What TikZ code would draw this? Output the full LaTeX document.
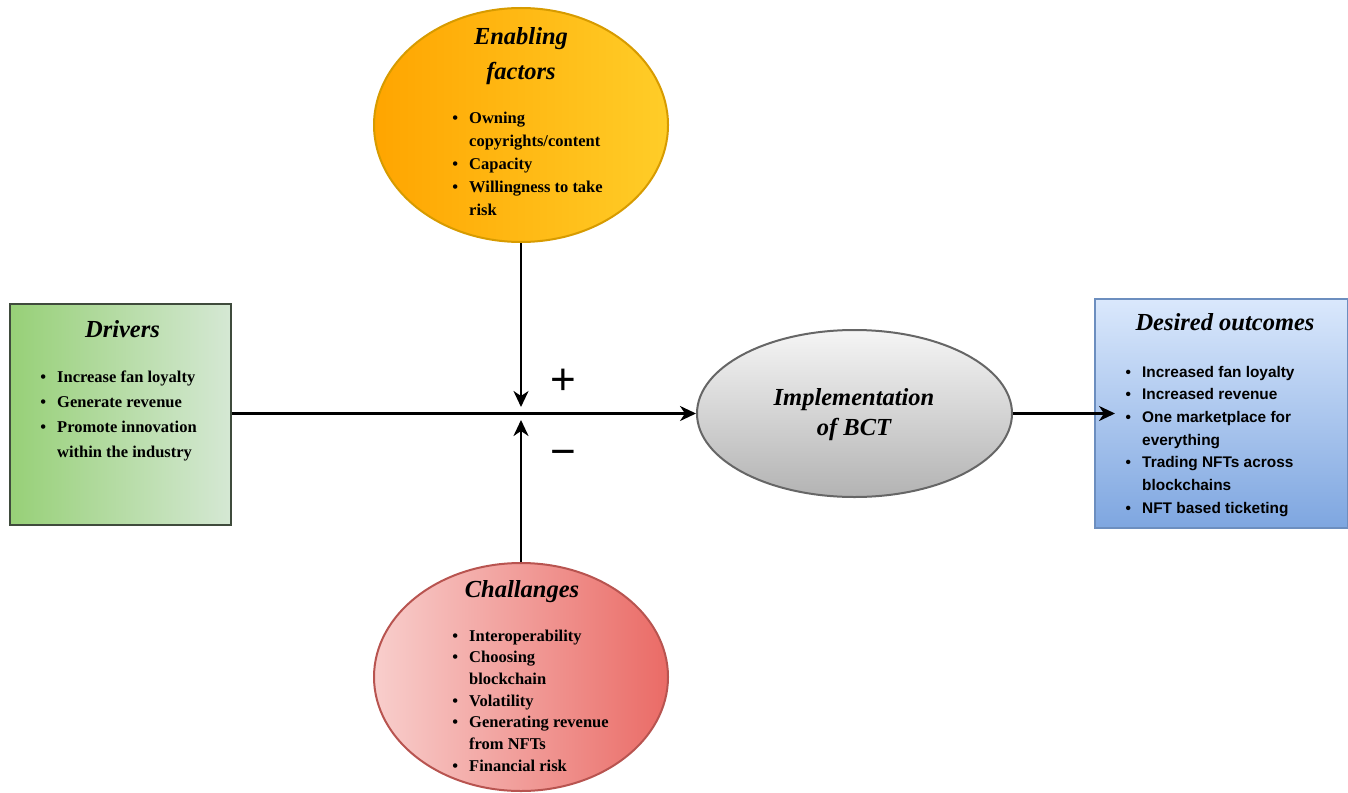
\documentclass[tikz,border=0pt]{standalone}
\usepackage{fontspec}
\setmainfont{Liberation Serif}
\newfontfamily\arialf{Liberation Sans}
\usetikzlibrary{shapes.geometric,arrows.meta}

% bullet centred in a 14pt slot, text starting 21pt in; matching indent for wrapped lines
\newcommand\lbul{\makebox[21pt][l]{\makebox[14pt][c]{\textbullet}}}
\newcommand\lind{\hspace*{21pt}}

\definecolor{orgA}{HTML}{FFA500}
\definecolor{orgB}{HTML}{FFCD28}
\definecolor{orgS}{HTML}{D79B00}
\definecolor{grnA}{HTML}{97D077}
\definecolor{grnB}{HTML}{D5E8D4}
\definecolor{grnS}{HTML}{3F4B3C}
\definecolor{gryA}{HTML}{F5F5F5}
\definecolor{gryB}{HTML}{B3B3B3}
\definecolor{gryS}{HTML}{666666}
\definecolor{bluA}{HTML}{DAE8FC}
\definecolor{bluB}{HTML}{7EA6E0}
\definecolor{bluS}{HTML}{6C8EBF}
\definecolor{redA}{HTML}{F8CECC}
\definecolor{redB}{HTML}{EA6B66}
\definecolor{redS}{HTML}{B85450}

\tikzset{
  shapebox/.style={draw, line width=2pt, inner sep=0pt},
  ovalbox/.style={shapebox, ellipse},
  rectbox/.style={shapebox, rectangle, anchor=north west},
  conn/.style={line width=2.5pt, -{Stealth[length=16pt,width=15pt,inset=5pt]}},
  titletext/.style={inner sep=0pt, anchor=base, font=\bfseries\itshape\fontsize{24.5}{35}\selectfont},
  listserif/.style={inner sep=0pt, anchor=base west, font=\bfseries\fontsize{16.5}{#1}\selectfont},
  listsans/.style={inner sep=0pt, anchor=base west, font=\arialf\bfseries\fontsize{15.4}{#1}\selectfont},
  signtext/.style={inner sep=0pt, anchor=base, font=\arialf\fontsize{44}{44}\selectfont},
}

\begin{document}
\begin{tikzpicture}[x=1pt,y=-1pt]
\useasboundingbox (0,0) rectangle (1348,792);

% --- shapes ---
\node[ovalbox, draw=orgS, left color=orgA, right color=orgB,
      minimum width=294pt, minimum height=234pt] (enab) at (521,125) {};
\node[rectbox, draw=grnS, left color=grnA, right color=grnB,
      minimum width=221pt, minimum height=221pt] (drv) at (9,303) {};
\node[ovalbox, draw=gryS, top color=gryA, bottom color=gryB,
      minimum width=315pt, minimum height=167pt] (impl) at (854.5,413.5) {};
\node[rectbox, draw=bluS, top color=bluA, bottom color=bluB,
      minimum width=253pt, minimum height=229pt] (outc) at (1094,298) {};
\node[ovalbox, draw=redS, left color=redA, right color=redB,
      minimum width=294pt, minimum height=228pt] (chal) at (521,677) {};

% --- titles ---
\node[titletext] (enabT) at (521,45) {\begin{tabular}[t]{@{}c@{}}Enabling\\factors\end{tabular}};
\node[titletext] (drvT) at (122.5,337) {Drivers};
\node[titletext, font=\bfseries\itshape\fontsize{24.5}{30}\selectfont] (implT) at (854,405)
  {\begin{tabular}[t]{@{}c@{}}Implementation\\of BCT\end{tabular}};
\node[titletext] (outcT) at (1225,330) {Desired outcomes};
\node[titletext] (chalT) at (522,597) {Challanges};

% --- bullet lists ---
\node[listserif=23] (enabL) at (448,123) {\begin{tabular}[t]{@{}l@{}}
  \lbul Owning\\
  \lind copyrights/content\\
  \lbul Capacity\\
  \lbul Willingness to take\\
  \lind risk\end{tabular}};
\node[listserif=25] (drvL) at (36,382) {\begin{tabular}[t]{@{}l@{}}
  \lbul Increase fan loyalty\\
  \lbul Generate revenue\\
  \lbul Promote innovation\\
  \lind within the industry\end{tabular}};
\node[listsans=22.67] (outcL) at (1121,377) {\begin{tabular}[t]{@{}l@{}}
  \lbul Increased fan loyalty\\
  \lbul Increased revenue\\
  \lbul One marketplace for\\
  \lind everything\\
  \lbul Trading NFTs across\\
  \lind blockchains\\
  \lbul NFT based ticketing\end{tabular}};
\node[listserif=21.67] (chalL) at (448,641) {\begin{tabular}[t]{@{}l@{}}
  \lbul Interoperability\\
  \lbul Choosing\\
  \lind blockchain\\
  \lbul Volatility\\
  \lbul Generating revenue\\
  \lind from NFTs\\
  \lbul Financial risk\end{tabular}};

% --- signs ---
\node[signtext] (plus) at (563,394) {+};
\node[signtext] (minus) at (563,466) {−};

% --- connectors ---
\coordinate (jtop) at (521,407);
\coordinate (jbot) at (521,420);
\draw[conn] (drv.east |- impl.west) -- (impl.west);
\draw[conn] (enab.south) -- (jtop);
\draw[conn] (chal.north) -- (jbot);
\draw[conn, shorten >=-21pt] (impl.east) -- (outc.west |- impl.east);
\end{tikzpicture}
\end{document}
